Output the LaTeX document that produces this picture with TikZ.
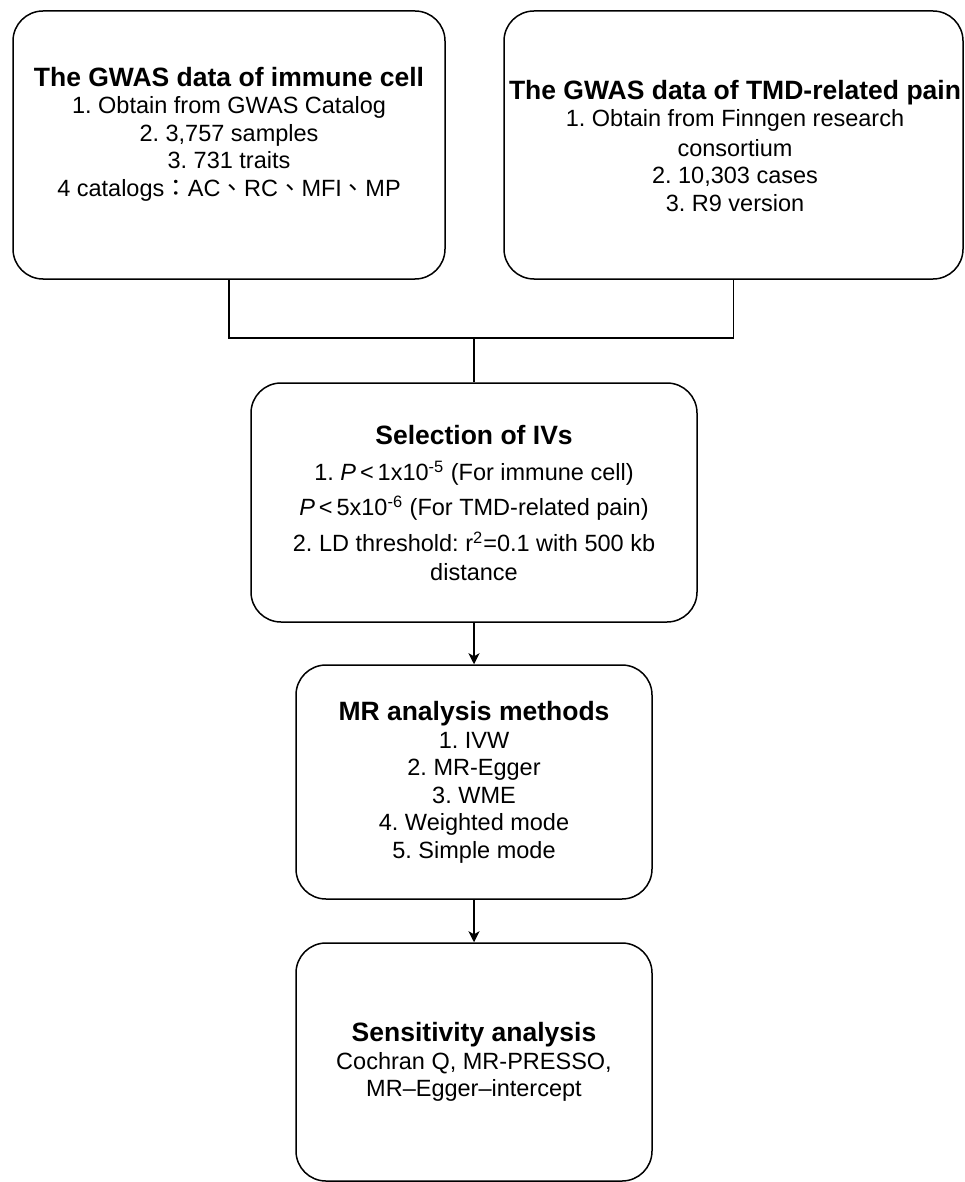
\documentclass[tikz,border=0pt]{standalone}
\usepackage{fontspec}
\setmainfont{Liberation Sans}
\newfontfamily\cjk{Noto Sans CJK TC}
\usetikzlibrary{arrows.meta}
\frenchspacing
\newcommand{\hd}[1]{{\fontsize{13.25pt}{13.75pt}\selectfont\bfseries #1}}

\begin{document}
\begin{tikzpicture}[x=0.5pt,y=-0.5pt,line width=0.75pt,
  >={Stealth[length=5.5pt,width=5.5pt,inset=1.5pt]},
  panel/.style={draw,rounded corners=15pt},
  body/.style={inner sep=0pt,align=center,font=\fontsize{11.75pt}{13.75pt}\selectfont}]
\useasboundingbox (0,0) rectangle (964,1182);
% the five boxes
\node[panel,minimum width=216pt,minimum height=134pt] (cell) at (229,145) {};
\node[panel,minimum width=229.5pt,minimum height=134pt] (tmd) at (733.5,145) {};
\node[panel,minimum width=223pt,minimum height=119.5pt] (ivs) at (474,502.5) {};
\node[panel,minimum width=178pt,minimum height=117pt] (mr) at (474,782) {};
\node[panel,minimum width=178pt,minimum height=119pt] (sens) at (474,1062) {};
% their texts
\node[body] (cell-txt) at (229,134) {\hd{The GWAS data of immune cell}\\
  1. Obtain from GWAS Catalog\\
  2. 3,757 samples\\
  3. 731 traits\\
  4 catalogs{\cjk ：}AC{\cjk 、}RC{\cjk 、}MFI{\cjk 、}MP};
\node[body] (tmd-txt) at (735,146) {\hd{The GWAS data of TMD-related pain}\\
  1. Obtain from Finngen research\\[1pt]
  consortium\\
  2. 10,303 cases\\
  3. R9 version};
\node[body] (ivs-txt) at (474,503) {\hd{Selection of IVs}\\[4.5pt]
  1. \textit{P}\,<\,1x10\textsuperscript{-5} (For immune cell)\\[3.75pt]
  \textit{P}\,<\,5x10\textsuperscript{-6} (For TMD-related pain)\\[4.25pt]
  2. LD threshold: r\textsuperscript{2}=0.1 with 500 kb\\[0.75pt]
  distance};
\node[body] (mr-txt) at (474,782.5) {\hd{MR analysis methods}\\
  1. IVW\\
  2. MR-Egger\\
  3. WME\\
  4. Weighted mode\\
  5. Simple mode};
\node[body] (sens-txt) at (474,1062) {\hd{Sensitivity analysis}\\
  Cochran Q, MR-PRESSO,\\
  MR–Egger–intercept};
% connectors
\coordinate (join) at (474,338);
\draw (cell.south) |- (join);
\draw (tmd.south) |- (join);
\draw (join) -- (ivs.north);
\draw[->] (ivs) -- (mr);
\draw[->] (mr) -- (sens);
\end{tikzpicture}
\end{document}
